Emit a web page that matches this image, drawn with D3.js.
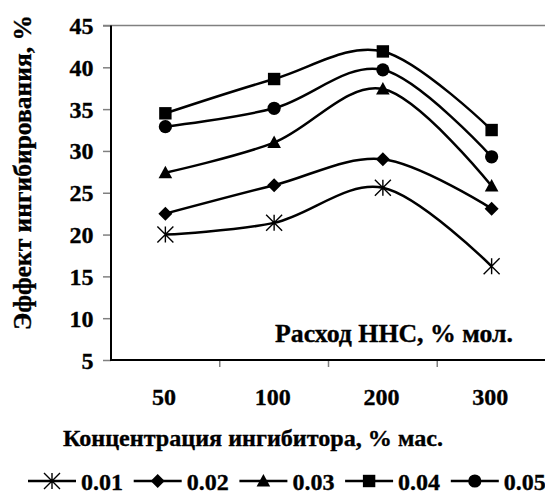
<!DOCTYPE html>
<html>
<head>
<meta charset="utf-8">
<script src="https://cdn.jsdelivr.net/npm/d3@7"></script>
<style>
  body { margin: 0; background: #fff; }
  text { font-family: "Liberation Serif", "Times New Roman", serif; font-weight: bold; fill: #000; stroke: #000; stroke-width: 0.35px; }
</style>
</head>
<body>
<svg id="chart"></svg>
<script>
// data
let categories = ["50", "100", "200", "300"];
let seriesNames = ["0.01", "0.02", "0.03", "0.04", "0.05"];
let seriesMarkers = ["star", "diamond", "triangle", "square", "circle"];
let s001 = [20.0, 21.4, 25.6, 16.2];
let s002 = [22.5, 25.9, 29.0, 23.1];
let s003 = [27.4, 31.0, 37.4, 25.8];
let s004 = [34.5, 38.6, 41.9, 32.5];
let s005 = [32.9, 35.1, 39.7, 29.3];
let yTicks = [5, 10, 15, 20, 25, 30, 35, 40, 45];

let chart = function (options) {
    let self = {};
    for (let key in options) {
        self[key] = options[key];
    }

    self.svg = d3.select("#" + self.parent_id)
        .attr("width", self.width)
        .attr("height", self.height);

    self.x = d3.scaleBand().domain(categories).range([111, 546]).padding(0);
    self.y = d3.scaleLinear().domain([5, 45]).range([360, 25.5]);

    self.cx = function (c) {
        return self.x(c) + self.x.bandwidth() / 2;
    };

    self.marker = function (sel, type) {
        if (type === "star") {
            let r = 8;
            sel.append("path")
                .attr("d", "M0," + (-r) + "V" + r +
                    "M" + (-r) + "," + (-r) + "L" + r + "," + r +
                    "M" + (-r) + "," + r + "L" + r + "," + (-r))
                .style("stroke", "#000").style("stroke-width", 1.4).style("fill", "none");
        } else if (type === "diamond") {
            sel.append("path")
                .attr("d", "M0,-7L7,0L0,7L-7,0Z")
                .style("fill", "#000");
        } else if (type === "triangle") {
            sel.append("path")
                .attr("d", "M0,-7L6.8,5.5L-6.8,5.5Z")
                .style("fill", "#000");
        } else if (type === "square") {
            sel.append("rect")
                .attr("x", -6.2).attr("y", -6.2).attr("width", 12.4).attr("height", 12.4)
                .style("fill", "#000");
        } else {
            sel.append("circle").attr("r", 6.6).style("fill", "#000");
        }
    };

    self.renderAxes = function () {
        let g = self.svg.append("g");
        // top frame line (grey)
        g.append("line")
            .attr("x1", 103).attr("x2", 546)
            .attr("y1", self.y(45)).attr("y2", self.y(45))
            .style("stroke", "#808080").style("stroke-width", 1.5);

        let yAxis = d3.axisLeft(self.y).tickValues(yTicks).tickSize(8).tickFormat("").tickSizeOuter(0);
        let ga = g.append("g").attr("transform", "translate(111,0)").call(yAxis);
        ga.select(".domain").remove();
        ga.selectAll(".tick line").style("stroke", "#808080").style("stroke-width", 1.5);

        let xAxis = d3.axisBottom(self.x).tickSize(7).tickFormat("").tickSizeOuter(0);
        let gx = g.append("g").attr("transform", "translate(0,360)").call(xAxis);
        gx.select(".domain").remove();
        gx.selectAll(".tick line")
            .attr("transform", "translate(" + (self.x.bandwidth() / 2) + ",0)")
            .style("stroke", "#808080").style("stroke-width", 1.5);

        g.append("line").attr("x1", 111).attr("x2", 111).attr("y1", self.y(45)).attr("y2", 361)
            .style("stroke", "#000").style("stroke-width", 2);
        g.append("line").attr("x1", 110).attr("x2", 546).attr("y1", 360).attr("y2", 360)
            .style("stroke", "#000").style("stroke-width", 2);

        g.selectAll("text.ylab").data(yTicks).enter().append("text")
            .attr("class", "ylab")
            .attr("x", 93.5).attr("y", d => self.y(d) + 8.5)
            .style("text-anchor", "end").style("font-size", "24px")
            .text(d => d);

        g.selectAll("text.xlab").data(categories).enter().append("text")
            .attr("class", "xlab")
            .attr("x", d => self.cx(d) - 1.5).attr("y", 405)
            .style("text-anchor", "middle").style("font-size", "24px")
            .text(d => d);

        g.append("text")
            .attr("transform", "translate(31,172.5) rotate(-90)")
            .attr("textLength", 315).attr("lengthAdjust", "spacingAndGlyphs")
            .style("text-anchor", "middle").style("font-size", "25px")
            .text("Эффект ингибирования, %");

        g.append("text")
            .attr("x", 253).attr("y", 446)
            .attr("textLength", 380).attr("lengthAdjust", "spacingAndGlyphs")
            .style("text-anchor", "middle").style("font-size", "24px")
            .text("Концентрация ингибитора, % мас.");

        g.append("text")
            .attr("x", 394).attr("y", 341.5)
            .attr("textLength", 238).attr("lengthAdjust", "spacingAndGlyphs")
            .style("text-anchor", "middle").style("font-size", "25px")
            .text("Расход ННС, % мол.");
    };

    self.renderSeries = function () {
        let all = [s001, s002, s003, s004, s005];
        let line = d3.line()
            .x((d, i) => self.cx(categories[i]))
            .y(d => self.y(d))
            .curve(d3.curveCatmullRom.alpha(0));
        let g = self.svg.append("g");
        all.forEach(function (vals, k) {
            g.append("path").datum(vals)
                .attr("d", line)
                .style("fill", "none").style("stroke", "#000").style("stroke-width", 2.5);
            vals.forEach(function (v, i) {
                let m = g.append("g")
                    .attr("transform", "translate(" + self.cx(categories[i]) + "," + self.y(v) + ")");
                self.marker(m, seriesMarkers[k]);
            });
        });
    };

    self.renderLegend = function () {
        let g = self.svg.append("g");
        seriesNames.forEach(function (name, k) {
            let x0 = 28 + k * 105.7;
            let item = g.append("g").attr("transform", "translate(" + x0 + ",481)");
            item.append("line").attr("x1", 0).attr("x2", 48).attr("y1", 0).attr("y2", 0)
                .style("stroke", "#000").style("stroke-width", 2.5);
            let m = item.append("g").attr("transform", "translate(24,0)");
            self.marker(m, seriesMarkers[k]);
            item.append("text").attr("x", 53).attr("y", 8.5)
                .style("font-size", "24px").text(name);
        });
    };

    self.renderAxes();
    self.renderSeries();
    self.renderLegend();
    return self;
};

chart({ parent_id: "chart", width: 545, height: 493 });
</script>
</body>
</html>
